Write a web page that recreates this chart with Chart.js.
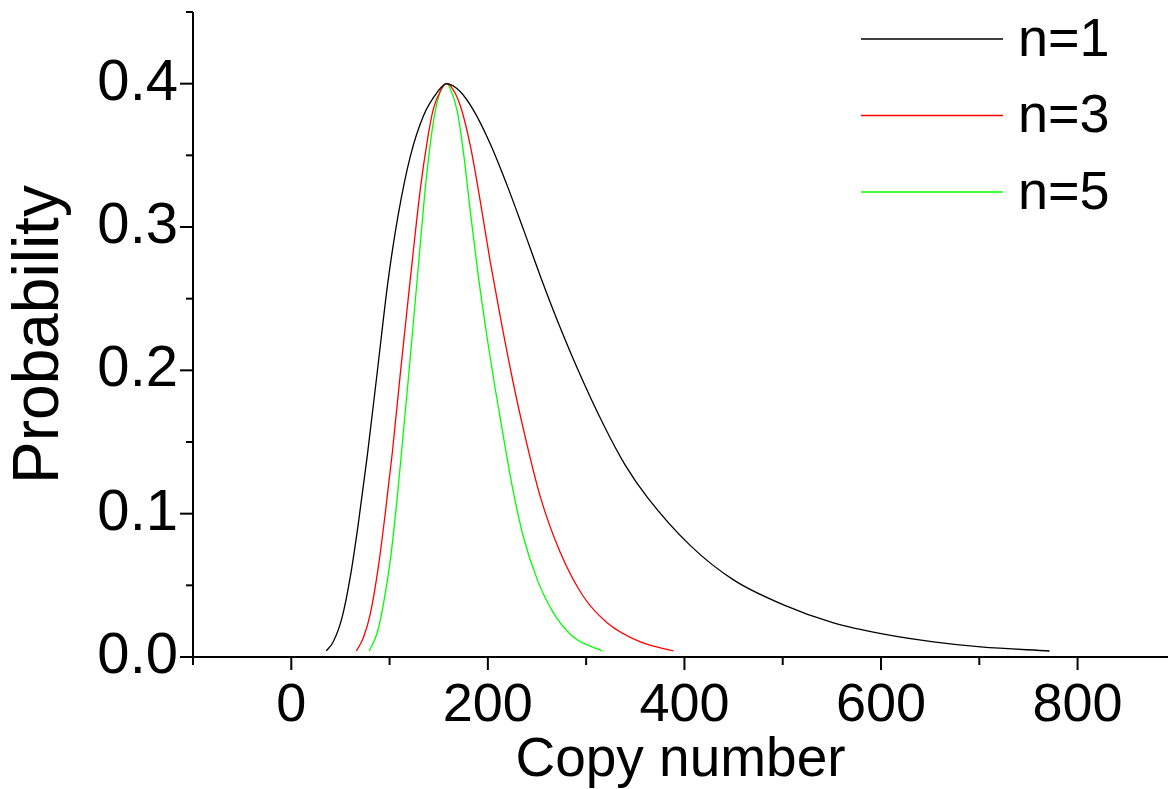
<!DOCTYPE html>
<html>
<head>
<meta charset="utf-8">
<script src="https://cdn.jsdelivr.net/npm/chart.js@4.4.1/dist/chart.umd.min.js"></script>
<style>
  html, body { margin: 0; padding: 0; background: #fff; }
  #wrap { width: 1168px; height: 789px; }
</style>
</head>
<body>
<div id="wrap"><canvas id="c" width="1168" height="789"></canvas></div>
<script>
// ---- data ----
const seriesLabels = ["n=1", "n=3", "n=5"];

const n1X = [35.6, 42.7, 51.9, 60.1, 68.2, 77.4, 87.5, 98.7, 108.9, 121.1, 134.4, 148.6, 157.8, 172.0, 185.2, 202.5, 219.8, 236.1, 253.4, 270.7, 291.1, 317.6, 339.9, 362.3, 406.1, 449.9, 500.8, 551.7, 601.5, 653.4, 701.3, 771.5];
const n1Y = [0.0042, 0.0106, 0.0282, 0.0562, 0.0931, 0.1409, 0.1990, 0.2636, 0.3090, 0.3493, 0.3775, 0.3941, 0.4000, 0.3944, 0.3817, 0.3579, 0.3287, 0.2985, 0.2657, 0.2348, 0.2013, 0.1622, 0.1337, 0.1114, 0.0777, 0.0538, 0.0364, 0.0238, 0.0161, 0.0105, 0.0070, 0.0042];

const n3X = [66.2, 73.3, 80.4, 88.5, 95.7, 102.8, 110.9, 118.1, 124.2, 131.3, 138.4, 144.5, 151.7, 157.8, 161.8, 172.0, 182.2, 192.4, 202.5, 212.7, 224.9, 235.1, 253.4, 273.8, 297.2, 321.6, 355.2, 388.8];
const n3Y = [0.0042, 0.0134, 0.0301, 0.0625, 0.1007, 0.1427, 0.1975, 0.2445, 0.2835, 0.3266, 0.3603, 0.3822, 0.3949, 0.4000, 0.3986, 0.3846, 0.3566, 0.3175, 0.2755, 0.2371, 0.1943, 0.1621, 0.1117, 0.0727, 0.0422, 0.0238, 0.0105, 0.0042];

const n5X = [79.4, 87.5, 93.6, 100.8, 107.9, 114.0, 120.1, 126.2, 131.3, 136.4, 143.5, 149.6, 157.8, 161.8, 169.0, 175.1, 182.2, 190.3, 199.5, 206.6, 214.8, 224.9, 236.1, 250.4, 266.7, 287.0, 316.5];
const n5Y = [0.0042, 0.0171, 0.0364, 0.0678, 0.1119, 0.1564, 0.2017, 0.2487, 0.2882, 0.3273, 0.3685, 0.3903, 0.4000, 0.3965, 0.3804, 0.3524, 0.3105, 0.2657, 0.2217, 0.1908, 0.1578, 0.1187, 0.0839, 0.0538, 0.0308, 0.0140, 0.0042];

// tick values
const xMajorTicks = [0, 200, 400, 600, 800];
const xMinorTicks = [-100, 100, 300, 500, 700];
const yMajorTicks = [0, 0.1, 0.2, 0.3, 0.4];
const yMinorTicks = [0.05, 0.15, 0.25, 0.35, 0.45];

const xTitle = "Copy number";
const yTitle = "Probability";

// ---- build ----
const zip = (xs, ys) => xs.map((x, i) => ({ x: x, y: ys[i] }));
const colors = ["#000000", "#ff0000", "#00ff00"];
const FONT = "'Liberation Sans', Arial, Helvetica, sans-serif";

const axesPlugin = {
  id: "originAxes",
  afterDraw(chart) {
    const { ctx, chartArea: { left, right, top, bottom }, scales: { x, y } } = chart;
    ctx.save();
    ctx.strokeStyle = "#000";
    ctx.lineWidth = 2;
    ctx.lineCap = "butt";
    const L = (x1, y1, x2, y2) => { ctx.beginPath(); ctx.moveTo(x1, y1); ctx.lineTo(x2, y2); ctx.stroke(); };
    L(left, top, left, bottom + 1);
    L(left - 1, bottom, right, bottom);
    yMajorTicks.forEach(v => { const p = y.getPixelForValue(v); L(left - 13, p, left, p); });
    yMinorTicks.forEach(v => { const p = y.getPixelForValue(v); L(left - 7, p, left, p); });
    xMajorTicks.forEach(v => { const p = x.getPixelForValue(v); L(p, bottom, p, bottom + 13); });
    xMinorTicks.forEach(v => { const p = x.getPixelForValue(v); L(p, bottom, p, bottom + 8); });
    ctx.restore();
  }
};

const legendPlugin = {
  id: "originLegend",
  afterDraw(chart) {
    const ctx = chart.ctx;
    ctx.save();
    chart.data.datasets.forEach((ds, i) => {
      const yy = 39 + i * 76.5;
      ctx.strokeStyle = ds.borderColor;
      ctx.lineWidth = 1.3;
      ctx.beginPath(); ctx.moveTo(861, yy); ctx.lineTo(1003, yy); ctx.stroke();
      ctx.fillStyle = "#000";
      ctx.font = "54px " + FONT;
      ctx.textBaseline = "middle";
      ctx.textAlign = "left";
      ctx.fillText(ds.label, 1018, yy + 2);
    });
    ctx.restore();
  }
};

new Chart(document.getElementById("c"), {
  type: "line",
  data: {
    datasets: [
      { label: seriesLabels[0], data: zip(n1X, n1Y), borderColor: colors[0] },
      { label: seriesLabels[1], data: zip(n3X, n3Y), borderColor: colors[1] },
      { label: seriesLabels[2], data: zip(n5X, n5Y), borderColor: colors[2] }
    ].map(d => Object.assign(d, { borderWidth: 1.3, pointRadius: 0, fill: false, cubicInterpolationMode: "monotone" }))
  },
  options: {
    responsive: false,
    devicePixelRatio: 1,
    animation: false,
    layout: { padding: { top: 12, right: 0, left: 0, bottom: 0 } },
    plugins: { legend: { display: false }, tooltip: { enabled: false } },
    scales: {
      x: {
        type: "linear",
        min: -100, max: 892,
        afterFit: s => { s.height = 132; s.paddingLeft = 0; s.paddingRight = 0; },
        afterBuildTicks: s => { s.ticks = xMajorTicks.map(v => ({ value: v })); },
        grid: { display: true, drawOnChartArea: false, drawTicks: true, tickLength: 13, color: "rgba(0,0,0,0)" },
        border: { display: false },
        ticks: { color: "#000", font: { family: FONT, size: 54 }, padding: 4, maxRotation: 0, autoSkip: false, callback: v => String(v) },
        title: { display: true, text: xTitle, color: "#000", font: { family: FONT, size: 55 }, padding: { top: 0, bottom: -5 } }
      },
      y: {
        type: "linear",
        min: 0, max: 0.45,
        afterFit: s => { s.width = 193; s.paddingTop = 0; s.paddingBottom = 0; },
        afterBuildTicks: s => { s.ticks = yMajorTicks.map(v => ({ value: v })); },
        grid: { display: true, drawOnChartArea: false, drawTicks: true, tickLength: 13, color: "rgba(0,0,0,0)" },
        border: { display: false },
        ticks: { color: "#000", font: { family: FONT, size: 58 }, padding: 2, callback: v => Number(v).toFixed(1) },
        title: { display: true, text: yTitle, color: "#000", font: { family: FONT, size: 64 }, padding: { top: 2, bottom: 0 } }
      }
    }
  },
  plugins: [axesPlugin, legendPlugin]
});
</script>
</body>
</html>
